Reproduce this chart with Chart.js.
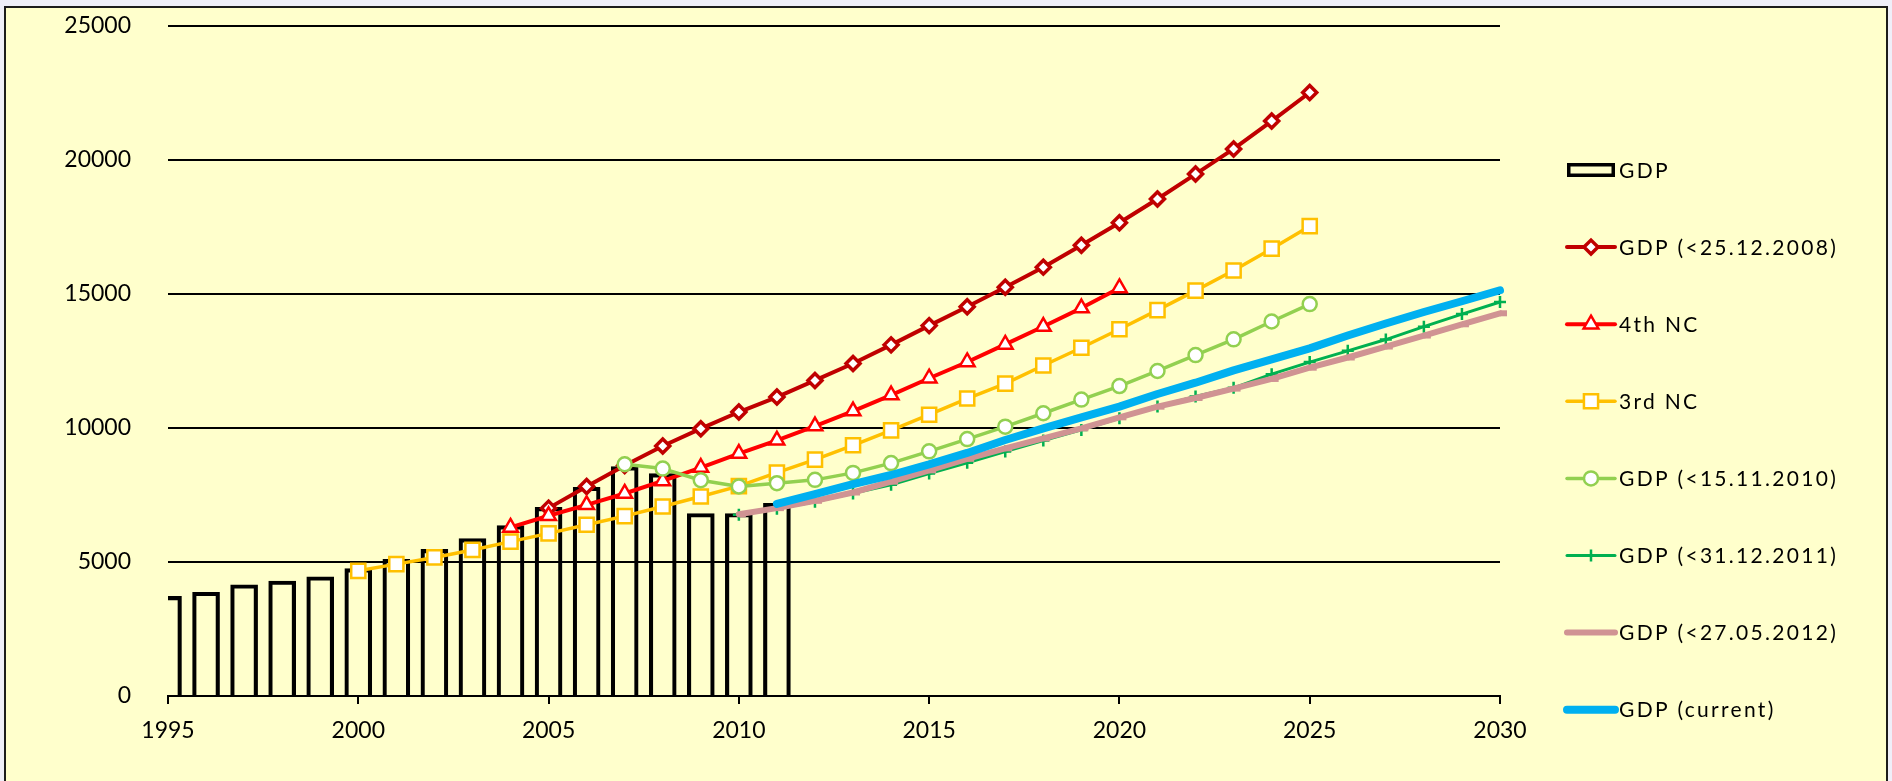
<!DOCTYPE html>
<html>
<head>
<meta charset="utf-8">
<title>GDP projections</title>
<script src="https://cdn.jsdelivr.net/npm/chart.js@4.4.1/dist/chart.umd.min.js"></script>
<style>
  html, body { margin: 0; padding: 0; width: 1892px; height: 781px; overflow: hidden; background: #EFEFF9; }
  #frame { position: absolute; left: 4px; top: 6px; width: 1884px; height: 800px; box-sizing: border-box;
           border: 2px solid #1c1c1c; background: #FFFFCC; }
  #chart { position: absolute; left: 0; top: 0; }
</style>
</head>
<body>
<div id="frame"></div>
<canvas id="chart" width="1892" height="781"></canvas>
<script>
// Years on the horizontal axis
const years = [1995, 1996, 1997, 1998, 1999, 2000, 2001, 2002, 2003, 2004,
               2005, 2006, 2007, 2008, 2009, 2010, 2011, 2012, 2013, 2014,
               2015, 2016, 2017, 2018, 2019, 2020, 2021, 2022, 2023, 2024,
               2025, 2026, 2027, 2028, 2029, 2030];

// Actual GDP (bars), 1995-2011
const gdpActual = [3720, 3870, 4150, 4290, 4450, 4750, 5100, 5470, 5870, 6360,
                   7040, 7790, 8560, 8300, 6810, 6810, 7190, null, null, null,
                   null, null, null, null, null, null, null, null, null, null,
                   null, null, null, null, null, null];

// Projection made before 25.12.2008
const gdp2008 = [null, null, null, null, null, null, null, null, null, null,
                 7010, 7816, 8600, 9330, 9975, 10596, 11154, 11774, 12407, 13102,
                 13820, 14527, 15251, 16002, 16817, 17657, 18546, 19474, 20414, 21453,
                 22519, null, null, null, null, null];

// 4th National Communication
const nc4 = [null, null, null, null, null, null, null, null, null, 6290,
             6725, 7134, 7556, 8027, 8524, 9045, 9541, 10074, 10633, 11228,
             11858, 12463, 13120, 13785, 14474, 15225, null, null, null, null,
             null, null, null, null, null, null];

// 3rd National Communication
const nc3 = [null, null, null, null, null, 4670, 4920, 5170, 5450, 5760,
             6067, 6390, 6712, 7072, 7444, 7829, 8337, 8821, 9355, 9913,
             10496, 11100, 11654, 12331, 12995, 13684, 14399, 15125, 15877, 16692,
             17531, null, null, null, null, null];

// Projection made before 15.11.2010
const gdp2010 = [null, null, null, null, null, null, null, null, null, null,
                 null, null, 8648, 8486, 8052, 7816, 7940, 8065, 8325, 8690,
                 9130, 9585, 10050, 10550, 11060, 11565, 12128, 12720, 13308, 13973,
                 14624, null, null, null, null, null];

// Projection made before 31.12.2011
const gdp2011 = [null, null, null, null, null, null, null, null, null, null,
                 null, null, null, null, null, 6760, 6990, 7250, 7560, 7880,
                 8300, 8700, 9120, 9530, 9930, 10360, 10800, 11180, 11500, 12010,
                 12460, 12880, 13300, 13780, 14250, 14700];

// Projection made before 27.05.2012
const gdp2012 = [null, null, null, null, null, null, null, null, null, null,
                 null, null, null, null, null, 6780, 7010, 7283, 7593, 7997,
                 8420, 8850, 9241, 9614, 9988, 10398, 10796, 11120, 11470, 11830,
                 12250, 12630, 13040, 13450, 13870, 14280];

// Current projection
const gdpCurrent = [null, null, null, null, null, null, null, null, null, null,
                    null, null, null, null, null, null, 7170, 7531, 7903, 8246,
                    8640, 9070, 9552, 9988, 10398, 10796, 11269, 11690, 12150, 12560,
                    12970, 13450, 13900, 14330, 14730, 15140];

// Axis ticks
const xTicks = [1995, 2000, 2005, 2010, 2015, 2020, 2025, 2030];
const yTicks = [0, 5000, 10000, 15000, 20000, 25000];

const labels = ['GDP', 'GDP (<25.12.2008)', '4th NC', '3rd NC',
                'GDP (<15.11.2010)', 'GDP (<31.12.2011)', 'GDP (<27.05.2012)', 'GDP (current)'];

const toPoints = vals => years.map((x, i) => ({ x: x, y: vals[i] })).filter(p => p.y !== null);

Chart.defaults.font.family = 'Lato';
Chart.defaults.color = '#000';

function lineSet(label, vals, color, width, style, radius, pbw, order) {
  return {
    type: 'line', label: label, data: toPoints(vals),
    borderColor: color, borderWidth: width, tension: 0, clip: false,
    borderCapStyle: 'round', borderJoinStyle: 'round',
    pointStyle: style || false, pointRadius: style ? radius : 0, pointHoverRadius: style ? radius : 0,
    pointBorderWidth: pbw, pointBorderColor: color,
    pointBackgroundColor: '#FFFFFF', order: order
  };
}

const datasets = [
  { type: 'bar', label: labels[0], data: toPoints(gdpActual),
    backgroundColor: 'rgba(0,0,0,0)', borderColor: '#000000', borderWidth: 3.5,
    borderSkipped: 'bottom', barThickness: 27, clip: 0, order: 10 },
  lineSet(labels[1], gdp2008, '#C00000', 4, 'rectRot', 7, 3.5, 9),
  lineSet(labels[2], nc4, '#FF0000', 4, 'triangle', 8.5, 2.5, 8),
  lineSet(labels[3], nc3, '#FFC000', 3.5, 'rect', 10, 2.5, 7),
  lineSet(labels[4], gdp2010, '#92D050', 3.5, 'circle', 7, 2.5, 6),
  lineSet(labels[5], gdp2011, '#00B050', 3, 'cross', 6, 2.5, 5),
  lineSet(labels[6], gdp2012, '#D09393', 6, 'dash', 7, 6, 4),
  lineSet(labels[7], gdpCurrent, '#00B0F0', 8, null, 0, 0, 3)
];

// Legend drawn at the right, one row per series (line + marker or bar box)
const sideLegend = {
  id: 'sideLegend',
  afterDraw(chart) {
    const ctx = chart.ctx;
    const x0 = 1567, x1 = 1615, textX = 1619, top = 170, step = 77.1;
    chart.data.datasets.forEach((ds, i) => {
      const y = top + step * i;
      ctx.save();
      if (ds.type === 'bar') {
        ctx.lineWidth = 3.5;
        ctx.strokeStyle = ds.borderColor;
        ctx.strokeRect(x0 + 1.75, y - 7 + 1.75, (x1 - x0) - 3.5, 14 - 3.5);
      } else {
        ctx.lineCap = 'round';
        ctx.lineWidth = ds.borderWidth;
        ctx.strokeStyle = ds.borderColor;
        ctx.beginPath();
        ctx.moveTo(x0, y);
        ctx.lineTo(x1, y);
        ctx.stroke();
        if (ds.pointStyle && ds.pointStyle !== 'dash') {
          ctx.lineCap = 'butt';
          ctx.fillStyle = ds.pointBackgroundColor;
          ctx.strokeStyle = ds.pointBorderColor;
          ctx.lineWidth = ds.pointBorderWidth;
          Chart.helpers.drawPoint(ctx, { pointStyle: ds.pointStyle, radius: ds.pointRadius,
                                         borderWidth: ds.pointBorderWidth, rotation: 0 }, (x0 + x1) / 2, y);
        }
      }
      ctx.fillStyle = '#000';
      ctx.font = '21px Lato';
      if ('letterSpacing' in ctx) ctx.letterSpacing = '2.3px';
      ctx.textBaseline = 'middle';
      ctx.textAlign = 'left';
      ctx.fillText(ds.label, textX, y + 1);
      ctx.restore();
    });
  }
};

new Chart(document.getElementById('chart'), {
  data: { datasets: datasets },
  options: {
    responsive: false,
    animation: false,
    events: [],
    layout: { padding: { left: 0, top: 26, right: 392, bottom: 0 } },
    plugins: { legend: { display: false }, tooltip: { enabled: false } },
    scales: {
      x: {
        type: 'linear', min: xTicks[0], max: xTicks[xTicks.length - 1], offset: false,
        afterBuildTicks: s => { s.ticks = xTicks.map(v => ({ value: v })); },
        ticks: { font: { size: 23 }, color: '#000', padding: 13, maxRotation: 0,
                 callback: v => String(v) },
        grid: { offset: false, drawOnChartArea: false, drawTicks: true, tickLength: 8, color: '#000', lineWidth: 2 },
        border: { display: true, color: '#000', width: 2 },
        afterFit: s => { s.height = 781 - 696; }
      },
      y: {
        type: 'linear', min: yTicks[0], max: yTicks[yTicks.length - 1],
        afterBuildTicks: s => { s.ticks = yTicks.map(v => ({ value: v })); },
        ticks: { font: { size: 23 }, color: '#000', padding: 0, callback: v => String(v) },
        // label gap comes from an invisible tick mark
        grid: { drawTicks: true, tickLength: 37, tickColor: 'rgba(0,0,0,0)', color: '#000', lineWidth: 2 },
        border: { display: false },
        afterFit: s => { s.width = 168; }
      }
    }
  },
  plugins: [sideLegend]
});
</script>
</body>
</html>
